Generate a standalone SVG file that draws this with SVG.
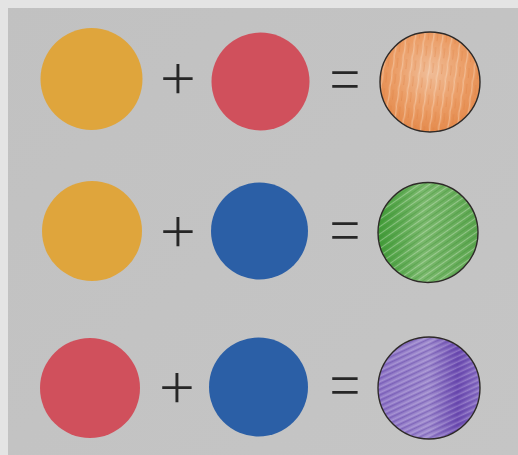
<svg xmlns="http://www.w3.org/2000/svg" width="518" height="455" viewBox="0 0 518 455">
  <style>
    .sym { font-family: Inter, "Liberation Sans", sans-serif; font-weight: 230; font-size: 68px; fill: #262626; text-anchor: middle; }
    .yellow { fill: #dfa53c; }
    .red { fill: #d0505c; }
    .blue { fill: #2b5fa6; }
    .crayon { stroke: #2e2a28; stroke-width: 1.4; }
  </style>
  <defs>
    <linearGradient id="paper" x1="0" y1="0" x2="1" y2="1">
      <stop offset="0" stop-color="#c1c1c1"/>
      <stop offset="1" stop-color="#c5c5c5"/>
    </linearGradient>
    <pattern id="streakV" width="9" height="16" patternUnits="userSpaceOnUse" patternTransform="rotate(8)">
      <path d="M2 0 Q3.5 8 2 16" stroke="#fbe3cc" stroke-width="1.4" fill="none" opacity="0.4"/>
      <path d="M6 2 L6.5 12" stroke="#d8773a" stroke-width="1" fill="none" opacity="0.35"/>
    </pattern>
    <pattern id="hatchG" width="7" height="6" patternUnits="userSpaceOnUse" patternTransform="rotate(-35)">
      <path d="M0 1.5 H7" stroke="#d8ecd2" stroke-width="1.1" opacity="0.4"/>
      <path d="M0 4.5 H7" stroke="#3d8f32" stroke-width="1" opacity="0.35"/>
    </pattern>
    <pattern id="hatchP" width="7" height="5" patternUnits="userSpaceOnUse" patternTransform="rotate(-25)">
      <path d="M0 1.2 H7" stroke="#e2dcf2" stroke-width="1" opacity="0.4"/>
      <path d="M0 3.6 H7" stroke="#5a3ea0" stroke-width="1" opacity="0.4"/>
    </pattern>
    <radialGradient id="orangeG" cx="0.5" cy="0.4" r="0.6">
      <stop offset="0" stop-color="#f0bd98"/>
      <stop offset="0.6" stop-color="#eb9d66"/>
      <stop offset="1" stop-color="#e48a4c"/>
    </radialGradient>
    <linearGradient id="greenG" x1="0" y1="0" x2="1" y2="0">
      <stop offset="0" stop-color="#3f9a36"/>
      <stop offset="0.45" stop-color="#79b86c"/>
      <stop offset="1" stop-color="#5aa54e"/>
    </linearGradient>
    <linearGradient id="purpleG" x1="0" y1="0" x2="1" y2="0">
      <stop offset="0" stop-color="#8a70c4"/>
      <stop offset="0.5" stop-color="#9b86cc"/>
      <stop offset="0.78" stop-color="#6a48b0"/>
      <stop offset="1" stop-color="#8a70c4"/>
    </linearGradient>
  </defs>

  <rect width="518" height="455" fill="url(#paper)"/>
  <rect x="0" y="0" width="518" height="8" fill="#e4e4e4"/>
  <rect x="0" y="0" width="8" height="455" fill="#e4e4e4"/>

  <!-- Row 1 -->
  <g id="row1-yellow"><circle class="yellow" cx="91.5" cy="79" r="51"/></g>
  <g id="row1-plus"><text class="sym" x="178" y="97.5">+</text></g>
  <g id="row1-red"><circle class="red" cx="260.5" cy="81.5" r="49"/></g>
  <g id="row1-equals"><text class="sym" x="345" y="99">=</text></g>
  <g id="row1-orange">
    <circle cx="430" cy="82" r="50" fill="url(#orangeG)"/>
    <circle cx="430" cy="82" r="50" fill="url(#streakV)"/>
    <circle class="crayon" cx="430" cy="82" r="50" fill="none"/>
  </g>

  <!-- Row 2 -->
  <g id="row2-yellow"><circle class="yellow" cx="92" cy="231" r="50"/></g>
  <g id="row2-plus"><text class="sym" x="178" y="250.5">+</text></g>
  <g id="row2-blue"><circle class="blue" cx="259.5" cy="231" r="48.5"/></g>
  <g id="row2-equals"><text class="sym" x="345" y="249.5">=</text></g>
  <g id="row2-green">
    <circle cx="428" cy="232.5" r="50" fill="url(#greenG)"/>
    <circle cx="428" cy="232.5" r="50" fill="url(#hatchG)"/>
    <circle class="crayon" cx="428" cy="232.5" r="50" fill="none" stroke="#23401f"/>
  </g>

  <!-- Row 3 -->
  <g id="row3-red"><circle class="red" cx="90" cy="388" r="50"/></g>
  <g id="row3-plus"><text class="sym" x="177" y="406.5">+</text></g>
  <g id="row3-blue"><circle class="blue" cx="258.5" cy="387" r="49.5"/></g>
  <g id="row3-equals"><text class="sym" x="345" y="405">=</text></g>
  <g id="row3-purple">
    <circle cx="429" cy="388" r="51" fill="url(#purpleG)"/>
    <circle cx="429" cy="388" r="51" fill="url(#hatchP)"/>
    <circle class="crayon" cx="429" cy="388" r="51" fill="none" stroke="#2a2238"/>
  </g>

  <g id="connectors"></g>
</svg>
